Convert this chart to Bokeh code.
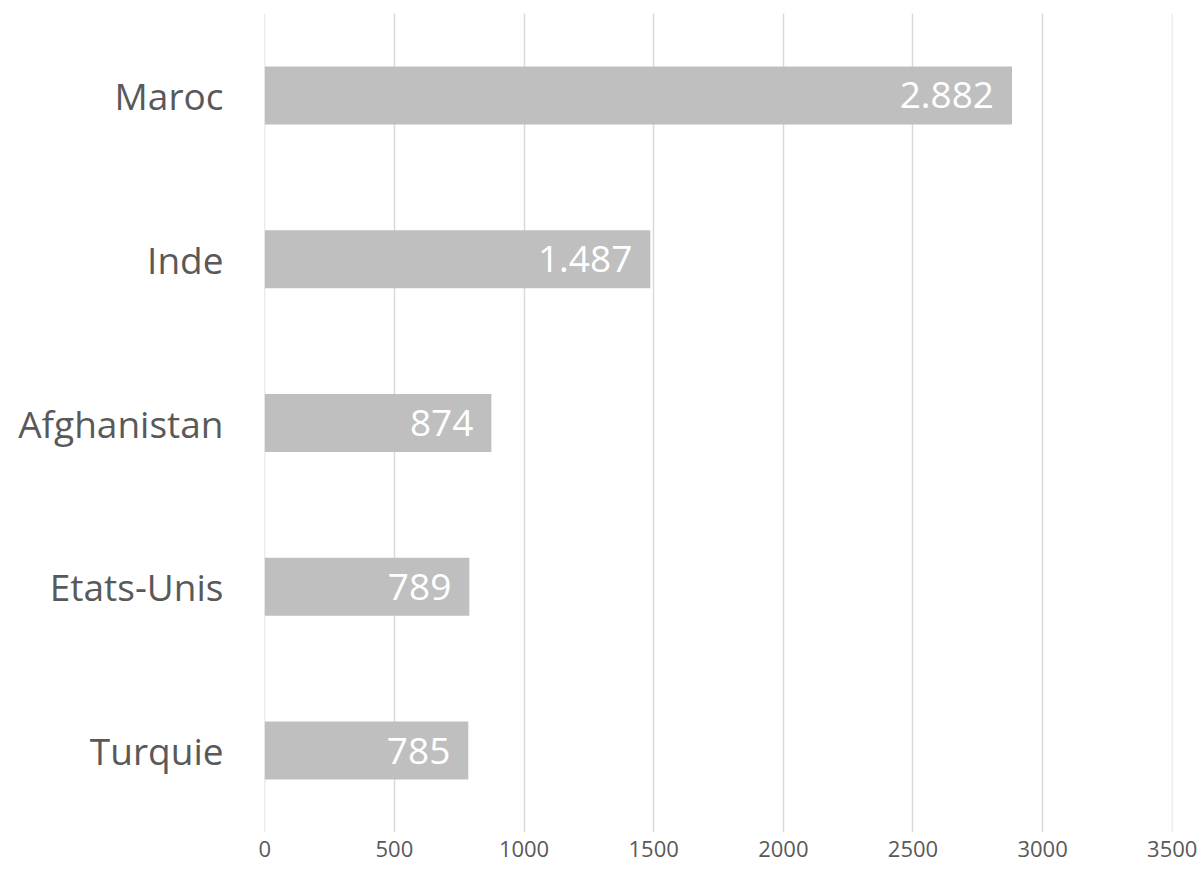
from bokeh.plotting import figure
from bokeh.models import ColumnDataSource, FactorRange, Range1d, FixedTicker
from bokeh.core.properties import value
from bokeh.embed import file_html
from bokeh.resources import INLINE

countries = ["Maroc", "Inde", "Afghanistan", "Etats-Unis", "Turquie"]
counts = [2882, 1487, 874, 789, 785]
x_ticks = [0, 500, 1000, 1500, 2000, 2500, 3000, 3500]

labels = [f"{v:,}".replace(",", ".") for v in counts]
src = ColumnDataSource(dict(cat=countries, val=counts, lab=labels))

FONT = "Open Sans"
GREY_TXT = "#595959"

p = figure(
    width=1201, height=870,
    y_range=FactorRange(*reversed(countries), range_padding=0),
    x_range=Range1d(-1, 3501),
    output_backend="svg", toolbar_location=None,
    min_border_left=264, min_border_right=29, min_border_top=13, min_border_bottom=38,
)
p.outline_line_color = None
p.background_fill_color = "white"
p.border_fill_color = "white"

p.hbar(y="cat", right="val", left=0, height=0.354, source=src,
       fill_color="#bfbfbf", line_color=None)

p.text(x="val", y="cat", text="lab", source=src, x_offset=-18,
       text_align="right", text_baseline="middle", text_color="white",
       text_font=value(FONT), text_font_size="37px")

# x axis
p.xaxis.ticker = FixedTicker(ticks=x_ticks)
p.xaxis.axis_line_color = None
p.xaxis.major_tick_line_color = None
p.xaxis.minor_tick_line_color = None
p.xaxis.major_tick_out = 0
p.xaxis.major_label_text_font = FONT
p.xaxis.major_label_text_font_size = "22px"
p.xaxis.major_label_text_color = GREY_TXT
p.xaxis.major_label_standoff = 8

# y axis
p.yaxis.axis_line_color = None
p.yaxis.major_tick_line_color = None
p.yaxis.major_tick_out = 0
p.yaxis.major_label_text_font = FONT
p.yaxis.major_label_text_font_size = "37px"
p.yaxis.major_label_text_color = GREY_TXT
p.yaxis.major_label_standoff = 41

p.xgrid.grid_line_color = "#d9d9d9"
p.xgrid.grid_line_width = 1.5
p.ygrid.grid_line_color = None

open("out.html", "w").write(file_html(p, INLINE))
